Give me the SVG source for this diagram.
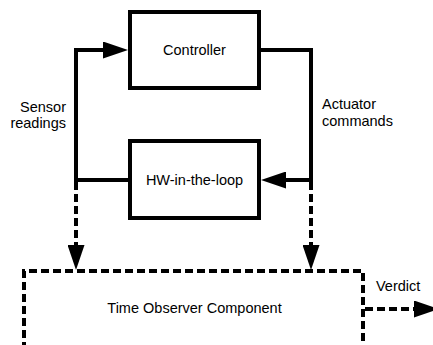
<svg xmlns="http://www.w3.org/2000/svg" width="433" height="345" viewBox="0 0 433 345">
  <style>
    .box { fill: #ffffff; stroke: #000000; stroke-width: 4; }
    .dbox { fill: none; stroke: #000000; stroke-width: 4; stroke-dasharray: 8 4; }
    .wire { fill: none; stroke: #000000; stroke-width: 4; }
    .dwire { fill: none; stroke: #000000; stroke-width: 4; stroke-dasharray: 8 4; }
    .lbl { font-family: "Liberation Sans", Arial, sans-serif; font-size: 14.5px; fill: #000000; }
  </style>
  <defs>
    <marker id="head" markerUnits="userSpaceOnUse" viewBox="0 0 25 17" refX="0" refY="8.5" markerWidth="25" markerHeight="17" orient="auto">
      <path d="M0,0 L25,8.5 L0,17 Z" fill="#000000"/>
    </marker>
  </defs>

  <g id="controller">
    <rect class="box" x="130" y="12" width="129" height="76"/>
    <text class="lbl" x="194.5" y="55" text-anchor="middle">Controller</text>
  </g>

  <g id="hw-in-the-loop">
    <rect class="box" x="130" y="141" width="129" height="77"/>
    <text class="lbl" x="194.5" y="184.5" text-anchor="middle">HW-in-the-loop</text>
  </g>

  <g id="time-observer">
    <path class="dbox" d="M24,350 L24,271 L363,271 L363,350"/>
    <text class="lbl" x="194.5" y="313" text-anchor="middle">Time Observer Component</text>
  </g>

  <g id="connectors">
    <!-- sensor readings loop: HW -> controller -->
    <path class="wire" d="M130,180 L76,180 L76,50 L103,50" marker-end="url(#head)"/>
    <!-- actuator commands loop: controller -> HW -->
    <path class="wire" d="M259,50 L311,50 L311,180 L286,180" marker-end="url(#head)"/>
    <!-- taps into the observer -->
    <path class="dwire" d="M76,182 L76,245" marker-end="url(#head)"/>
    <path class="dwire" d="M311,182 L311,245" marker-end="url(#head)"/>
    <!-- verdict output -->
    <path class="dwire" d="M365,309 L414,309" marker-end="url(#head)"/>
    <text class="lbl" x="66" y="112" text-anchor="end">Sensor</text>
    <text class="lbl" x="66" y="128" text-anchor="end">readings</text>
    <text class="lbl" x="322" y="109">Actuator</text>
    <text class="lbl" x="322" y="125.5">commands</text>
    <text class="lbl" x="376" y="291">Verdict</text>
  </g>
</svg>
